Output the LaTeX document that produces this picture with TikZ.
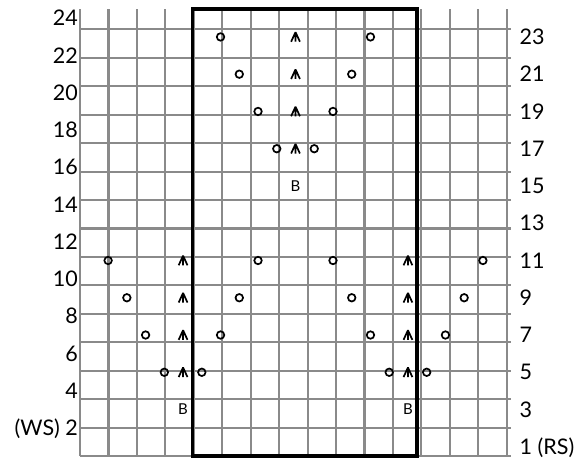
\documentclass[tikz,border=0pt]{standalone}
\usepackage{fontspec}
\setmainfont{Lato}
\usetikzlibrary{positioning}
\definecolor{gridgray}{RGB}{138,138,138}

\begin{document}
\begin{tikzpicture}[
  x=18.74pt, y=18.63pt,
  gridline/.style={draw=gridgray, line width=2.1pt},
  repeatbox/.style={draw=black, line width=3.8pt},
  yarnover/.style={circle, draw, line width=1.7pt, minimum size=7.5pt, inner sep=0pt},
  rowlabel/.style={font=\fontsize{21.5}{21.5}\selectfont, inner sep=0pt, yshift=-7.6pt},
  bobble/.style={font=\fontsize{15}{15}\selectfont, inner sep=0pt},
  cdd/.pic={\draw[line width=1.7pt, line join=bevel]
    (-4.4pt,-4.8pt) -- (0,4.8pt) -- (4.4pt,-4.8pt) (0,4.8pt) -- (0,-4.8pt);}
]
  \useasboundingbox (-4.269,-0.161) rectangle (26.734,24.483);
  % grid and repeat
  \draw[gridline] (0,0) grid (23,24);
  \draw[repeatbox] (6,0) rectangle (18,24);
  % row numbers: WS on the left, RS on the right
  \foreach \r in {4,6,...,24}
    \node[rowlabel, anchor=base east] (lbl-\r) at (-0.1,\r-0.5) {\r};
  \node[rowlabel, anchor=base east] (lbl-2) at (-0.1,1.5) {(WS) 2};
  \foreach \r in {3,5,...,23}
    \node[rowlabel, anchor=base west] (lbl-\r) at (23.45,\r-0.5) {\r};
  \node[rowlabel, anchor=base west] (lbl-1) at (23.45,0.5) {1 (RS)};
  % bobbles
  \foreach \c in {6,18}
    \node[bobble] (bob-3-\c) at (\c-0.5,2.5) {B};
  \node[bobble] (bob-15-12) at (11.5,14.5) {B};
  % lower motif, two repeats
  \foreach \s in {0,12}
    \foreach \r/\k in {5/1,7/2,9/3,11/4} {
      \node[yarnover] (yo-\r-l\s) at (5.5-\k+\s,\r-0.5) {};
      \node[yarnover] (yo-\r-r\s) at (5.5+\k+\s,\r-0.5) {};
      \pic (dec-\r-\s) at (5.5+\s,\r-0.5) {cdd};
    }
  % upper motif
  \foreach \r/\k in {17/1,19/2,21/3,23/4} {
    \node[yarnover] (yo-\r-l) at (11.5-\k,\r-0.5) {};
    \node[yarnover] (yo-\r-r) at (11.5+\k,\r-0.5) {};
    \pic (dec-\r) at (11.5,\r-0.5) {cdd};
  }
\end{tikzpicture}
\end{document}
